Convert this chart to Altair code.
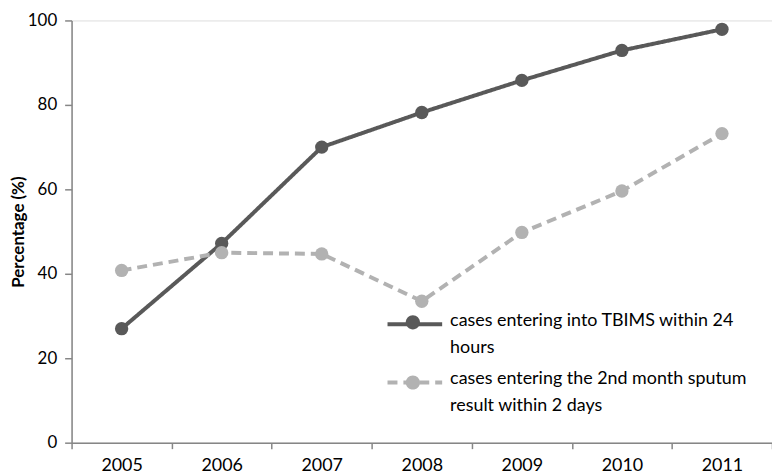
import json
import altair as alt
import pandas as pd

years = ["2005", "2006", "2007", "2008", "2009", "2010", "2011"]
series_a = "cases entering into TBIMS within 24 hours"
series_b = "cases entering the 2nd month sputum result within 2 days"
values_a = [27.0, 47.2, 70.0, 78.2, 85.8, 92.9, 97.9]
values_b = [40.8, 45.0, 44.7, 33.5, 49.8, 59.6, 73.2]
label_a = ["cases entering into TBIMS within 24", "hours"]
label_b = ["cases entering the 2nd month sputum", "result within 2 days"]
y_ticks = [0, 20, 40, 60, 80, 100]

series_names = [series_a, series_b]
colors = ["#595959", "#b2b2b2"]
dashes = [[1, 0], [10, 6]]

rows = []
for name, vals in ((series_a, values_a), (series_b, values_b)):
    for yr, v in zip(years, vals):
        rows.append({"year": yr, "value": v, "series": name, "series_p": name})
df = pd.DataFrame(rows)

label_expr = "datum.label == {} ? {} : {}".format(
    json.dumps(series_a), json.dumps(label_a), json.dumps(label_b)
)

FONT = "Lato"
AX = "#868686"

x_enc = alt.X(
    "year:O",
    sort=years,
    bandPosition=0.5,
    scale=alt.Scale(type="band", paddingInner=0, paddingOuter=0),
    axis=alt.Axis(
        title=None, labelAngle=0, tickBand="extent", tickSize=6, tickWidth=1.5,
        tickColor=AX, domainColor=AX, domainWidth=1.5, labelFont=FONT,
        labelFontSize=18, labelColor="#000000", labelPadding=8, grid=False,
    ),
)
y_enc = alt.Y(
    "value:Q",
    scale=alt.Scale(domain=[0, 100], nice=False),
    axis=alt.Axis(
        title="Percentage (%)", values=y_ticks, tickSize=7, tickWidth=1.5,
        tickColor=AX, domainColor=AX, domainWidth=1.5, labelFont=FONT,
        labelFontSize=17, labelColor="#000000", labelPadding=8, grid=False,
        titleFont=FONT, titleFontSize=17, titleFontWeight="bold",
        titleColor="#000000", titlePadding=0,
    ),
)

common_legend = dict(
    orient="none", legendX=333.5, legendY=281.5, padding=0, title=None,
    labelFont=FONT, labelFontSize=18, labelColor="#000000",
    labelBaseline="top", labelOffset=23.5, symbolSize=400, labelLimit=400,
)

line_legend = alt.Legend(
    symbolType="M-2.75,1.24H2.75", symbolStrokeWidth=4, zindex=1,
    labelExpr=label_expr, rowPadding=1.5, **common_legend
)
point_legend = alt.Legend(
    symbolType="M-0.715,1.24A0.715,0.715 0 1,0 0.715,1.24A0.715,0.715 0 1,0 -0.715,1.24Z",
    symbolStrokeWidth=0, zindex=2, labelExpr="''", rowPadding=30.5,
    **common_legend
)

lines = alt.Chart(df).mark_line(strokeWidth=4).encode(
    x=x_enc,
    y=y_enc,
    stroke=alt.Stroke("series:N", sort=series_names,
                      scale=alt.Scale(domain=series_names, range=colors),
                      legend=line_legend),
    strokeDash=alt.StrokeDash("series:N", sort=series_names,
                              scale=alt.Scale(domain=series_names, range=dashes),
                              legend=line_legend),
)

points = alt.Chart(df).mark_circle(size=180, opacity=1).encode(
    x=x_enc,
    y=y_enc,
    fill=alt.Fill("series_p:N", sort=series_names,
                  scale=alt.Scale(range=colors),
                  legend=point_legend),
)

chart = (
    alt.layer(lines, points)
    .properties(
        width=705, height=425,
        autosize=alt.AutoSizeParams(type="none"),
        padding={"left": 64, "top": 11, "right": 0, "bottom": 32},
    )
    .configure_view(stroke=None)
    .configure(style={"guide-label": {"lineHeight": 27}})
)

chart.save("out.html", embed_options={"renderer": "svg", "actions": False})
